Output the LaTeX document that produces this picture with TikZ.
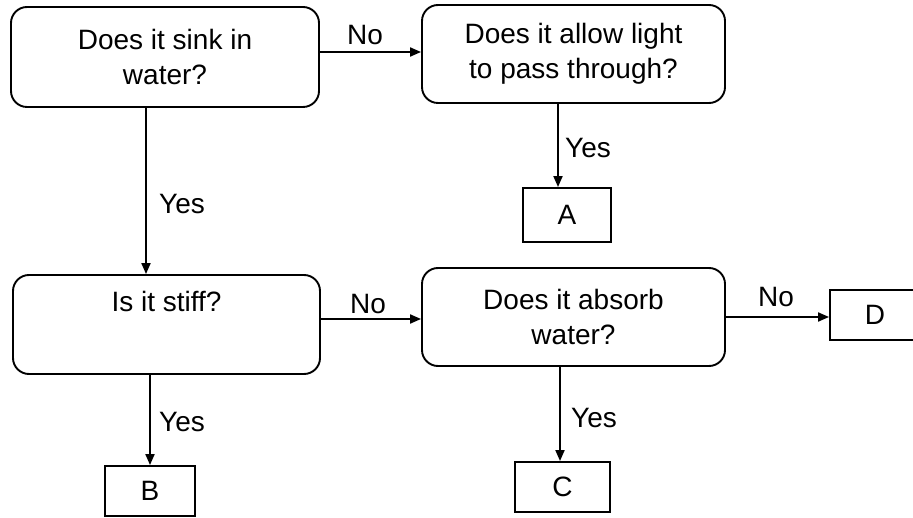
\documentclass[tikz,border=0pt]{standalone}
\usepackage{fontspec}
\setmainfont{Liberation Sans}
\usetikzlibrary{arrows.meta}
\begin{document}
\begin{tikzpicture}[x=1pt,y=-1pt,
  txt/.style={font=\fontsize{28}{35}\selectfont},
  qbox/.style={draw, line width=1.9pt, rounded corners=16pt, align=center, inner sep=0pt, txt},
  abox/.style={draw, line width=1.9pt, align=center, inner sep=0pt, txt},
  arr/.style={line width=1.9pt, -{Triangle[length=11pt,width=9pt]}},
  lbl/.style={txt, inner sep=0pt}]
\useasboundingbox (0,0) rectangle (913,518);
\node[qbox, minimum width=308pt, minimum height=100pt] (q1) at (165,57) {Does it sink in\\water?};
\node[qbox, minimum width=303pt, minimum height=98pt] (q2) at (573.5,54) {Does it allow light\\to pass through?};
\node[qbox, minimum width=307pt, minimum height=99pt] (q3) at (166.5,324.5) {Is it stiff?\\\strut};
\node[qbox, minimum width=303pt, minimum height=98pt] (q4) at (573.5,317) {Does it absorb\\water?};
\node[abox, minimum width=88pt, minimum height=54pt] (A) at (567,215) {A};
\node[abox, minimum width=90pt, minimum height=50pt] (B) at (150,491) {B};
\node[abox, minimum width=95pt, minimum height=50pt] (C) at (562.5,487) {C};
\node[abox, minimum width=90pt, minimum height=50pt] (D) at (875,315) {D};
\coordinate (r1) at (0,52);
\coordinate (r3) at (0,319);
\coordinate (r4) at (0,317);
\coordinate (c1) at (146,0);
\coordinate (c2) at (558,0);
\coordinate (c4) at (560,0);
\draw[arr] (q1.east |- r1) -- (q2.west |- r1);
\draw[arr] (q1.south -| c1) -- (q3.north -| c1);
\draw[arr] (q2.south -| c2) -- (A.north -| c2);
\draw[arr] (q3.east |- r3) -- (q4.west |- r3);
\draw[arr] (q3.south -| B.north) -- (B.north);
\draw[arr] (q4.south -| c4) -- (C.north -| c4);
\draw[arr] (q4.east |- r4) -- (D.west |- r4);
\node[lbl] (n1) at (365,35) {No};
\node[lbl] (y1) at (182,204) {Yes};
\node[lbl] (y2) at (588,148) {Yes};
\node[lbl] (n3) at (368,304) {No};
\node[lbl] (y3) at (182,422) {Yes};
\node[lbl] (n4) at (776,297) {No};
\node[lbl] (y4) at (594,418) {Yes};
\end{tikzpicture}
\end{document}
